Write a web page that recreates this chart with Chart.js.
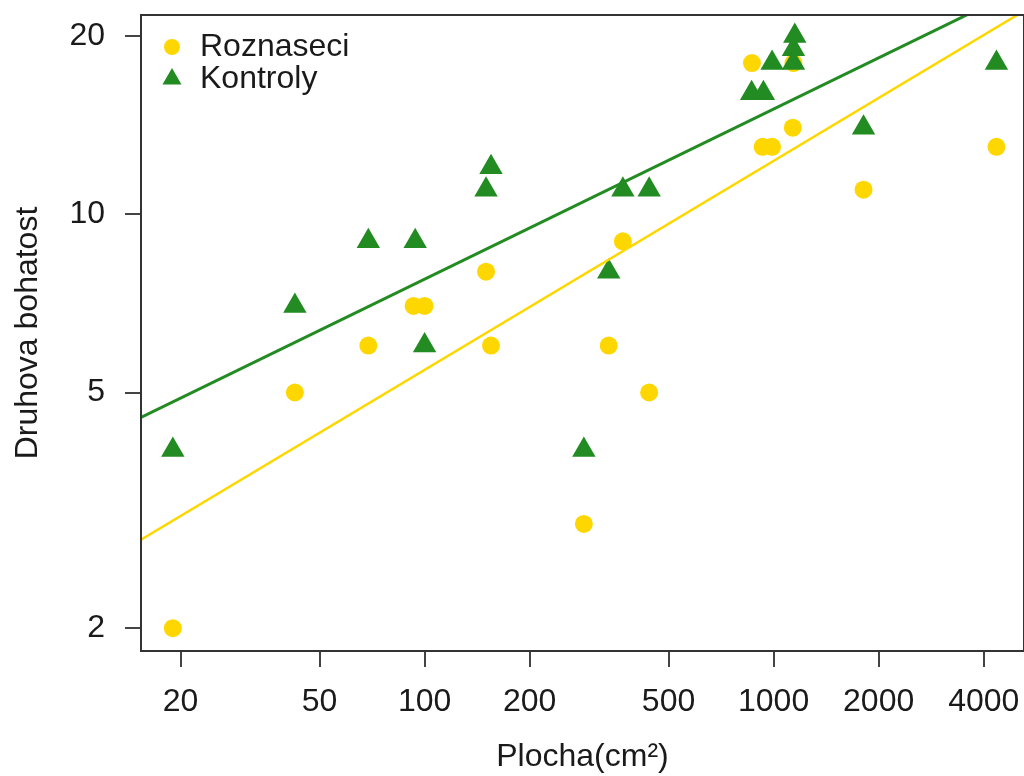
<!DOCTYPE html>
<html>
<head>
<meta charset="utf-8">
<script src="https://cdn.jsdelivr.net/npm/chart.js@4"></script>
<style>
  html, body { margin: 0; padding: 0; background: #fff; }
  #wrap { width: 1024px; height: 776px; }
</style>
</head>
<body>
<div id="wrap"><canvas id="speciesChart" width="1024" height="776"></canvas></div>
<script>
// plot area (cm2) vs. species richness, log-log
const roznaseciArea = [19, 42.5, 69, 93, 100, 150, 155, 286, 337, 370, 440, 867, 930, 990, 1135, 1140, 1810, 4350];
const roznaseciRichness = [2, 5, 6, 7, 7, 8, 6, 3, 6, 9, 5, 18, 13, 13, 14, 18, 11, 13];

const kontrolyArea = [19, 42.5, 69, 94, 100, 150, 155, 286, 337, 370, 440, 865, 935, 990, 1150, 1140, 1140, 1810, 4350];
const kontrolyRichness = [4, 7, 9, 9, 6, 11, 12, 4, 8, 11, 11, 16, 16, 18, 20, 19, 18, 14, 18];

// regression lines, ends at the axis limits
const fitArea = [15.4, 5220];
const fitRoznaseci = [2.82, 22.05];
const fitKontroly = [4.54, 24.2];

const xTicks = [20, 50, 100, 200, 500, 1000, 2000, 4000];
const yTicks = [2, 5, 10, 20];

const GOLD = '#FFD700';
const GREEN = '#228B22';
const INK = '#1a1a1a';
const FONT = { family: "'Liberation Sans', Arial, sans-serif", size: 32 };

function pairs(xs, ys) {
  return xs.map((x, i) => ({ x: x, y: ys[i] }));
}

// box around the plot region
const frame = {
  id: 'frame',
  afterDraw(chart) {
    const a = chart.chartArea, ctx = chart.ctx;
    ctx.save();
    ctx.strokeStyle = '#333';
    ctx.lineWidth = 2;
    ctx.strokeRect(a.left, a.top, a.right - a.left, a.bottom - a.top);
    ctx.restore();
  }
};

// legend in the top-left corner of the plot
const cornerLegend = {
  id: 'cornerLegend',
  afterDraw(chart) {
    const a = chart.chartArea, ctx = chart.ctx;
    const items = chart.data.datasets.filter(d => !d.showLine);
    ctx.save();
    ctx.font = FONT.size + 'px ' + FONT.family;
    ctx.textBaseline = 'middle';
    // Roznaseci first, Kontroly second
    items.reverse().forEach((d, i) => {
      const cy = a.top + 32 + i * 32;
      ctx.fillStyle = d.backgroundColor;
      ctx.strokeStyle = d.backgroundColor;
      Chart.helpers.drawPoint(ctx, {
        pointStyle: d.pointStyle,
        radius: d.pointStyle === 'triangle' ? 11 : 8,
        rotation: 0,
        borderWidth: 0
      }, a.left + 31, cy);
      ctx.fillStyle = INK;
      ctx.fillText(d.label, a.left + 59, cy);
    });
    ctx.restore();
  }
};

new Chart(document.getElementById('speciesChart'), {
  type: 'scatter',
  data: {
    datasets: [
      {
        label: 'fit Kontroly',
        data: pairs(fitArea, fitKontroly),
        showLine: true,
        borderColor: GREEN,
        borderWidth: 3,
        pointRadius: 0,
        clip: 0
      },
      {
        label: 'fit Roznaseci',
        data: pairs(fitArea, fitRoznaseci),
        showLine: true,
        borderColor: GOLD,
        borderWidth: 2.5,
        pointRadius: 0,
        clip: 0
      },
      {
        label: 'Kontroly',
        data: pairs(kontrolyArea, kontrolyRichness),
        pointStyle: 'triangle',
        pointRadius: 13.5,
        backgroundColor: GREEN,
        borderColor: GREEN,
        borderWidth: 0
      },
      {
        label: 'Roznaseci',
        data: pairs(roznaseciArea, roznaseciRichness),
        pointStyle: 'circle',
        pointRadius: 9,
        backgroundColor: GOLD,
        borderColor: GOLD,
        borderWidth: 0
      }
    ]
  },
  options: {
    responsive: false,
    animation: false,
    events: [],
    // big markers would otherwise shrink the plot on the right
    layout: { autoPadding: false, padding: { top: 15, right: 0, left: 0, bottom: 0 } },
    plugins: {
      legend: { display: false },
      tooltip: { enabled: false }
    },
    scales: {
      x: {
        type: 'logarithmic',
        min: 15.4,
        max: 5217,
        afterBuildTicks: s => { s.ticks = xTicks.map(v => ({ value: v })); },
        afterFit: s => { s.height = 125; },
        ticks: {
          callback: v => String(v),
          autoSkip: false,
          maxRotation: 0,
          // gap below the tick marks comes from the tall line height
          padding: 0,
          color: INK,
          font: Object.assign({}, FONT, { lineHeight: 2.2 })
        },
        grid: { drawOnChartArea: false, drawTicks: true, tickLength: 16, color: '#444', lineWidth: 2 },
        border: { color: '#333', width: 2 },
        title: { display: true, text: 'Plocha(cm²)', color: INK, font: FONT, padding: { top: 0, bottom: 0 } }
      },
      y: {
        type: 'logarithmic',
        min: 1.83,
        max: 21.7,
        afterBuildTicks: s => { s.ticks = yTicks.map(v => ({ value: v })); },
        afterFit: s => {
          s.width = 141;
          s.paddingTop = 0;
          s.paddingBottom = 0;
        },
        ticks: {
          callback: v => String(v),
          autoSkip: false,
          padding: 20,
          color: INK,
          font: FONT
        },
        grid: { drawOnChartArea: false, drawTicks: true, tickLength: 16, color: '#444', lineWidth: 2 },
        border: { color: '#333', width: 2 },
        title: { display: true, text: 'Druhova bohatost', color: INK, font: FONT, padding: { top: 9, bottom: 0 } }
      }
    }
  },
  plugins: [frame, cornerLegend]
});
</script>
</body>
</html>
